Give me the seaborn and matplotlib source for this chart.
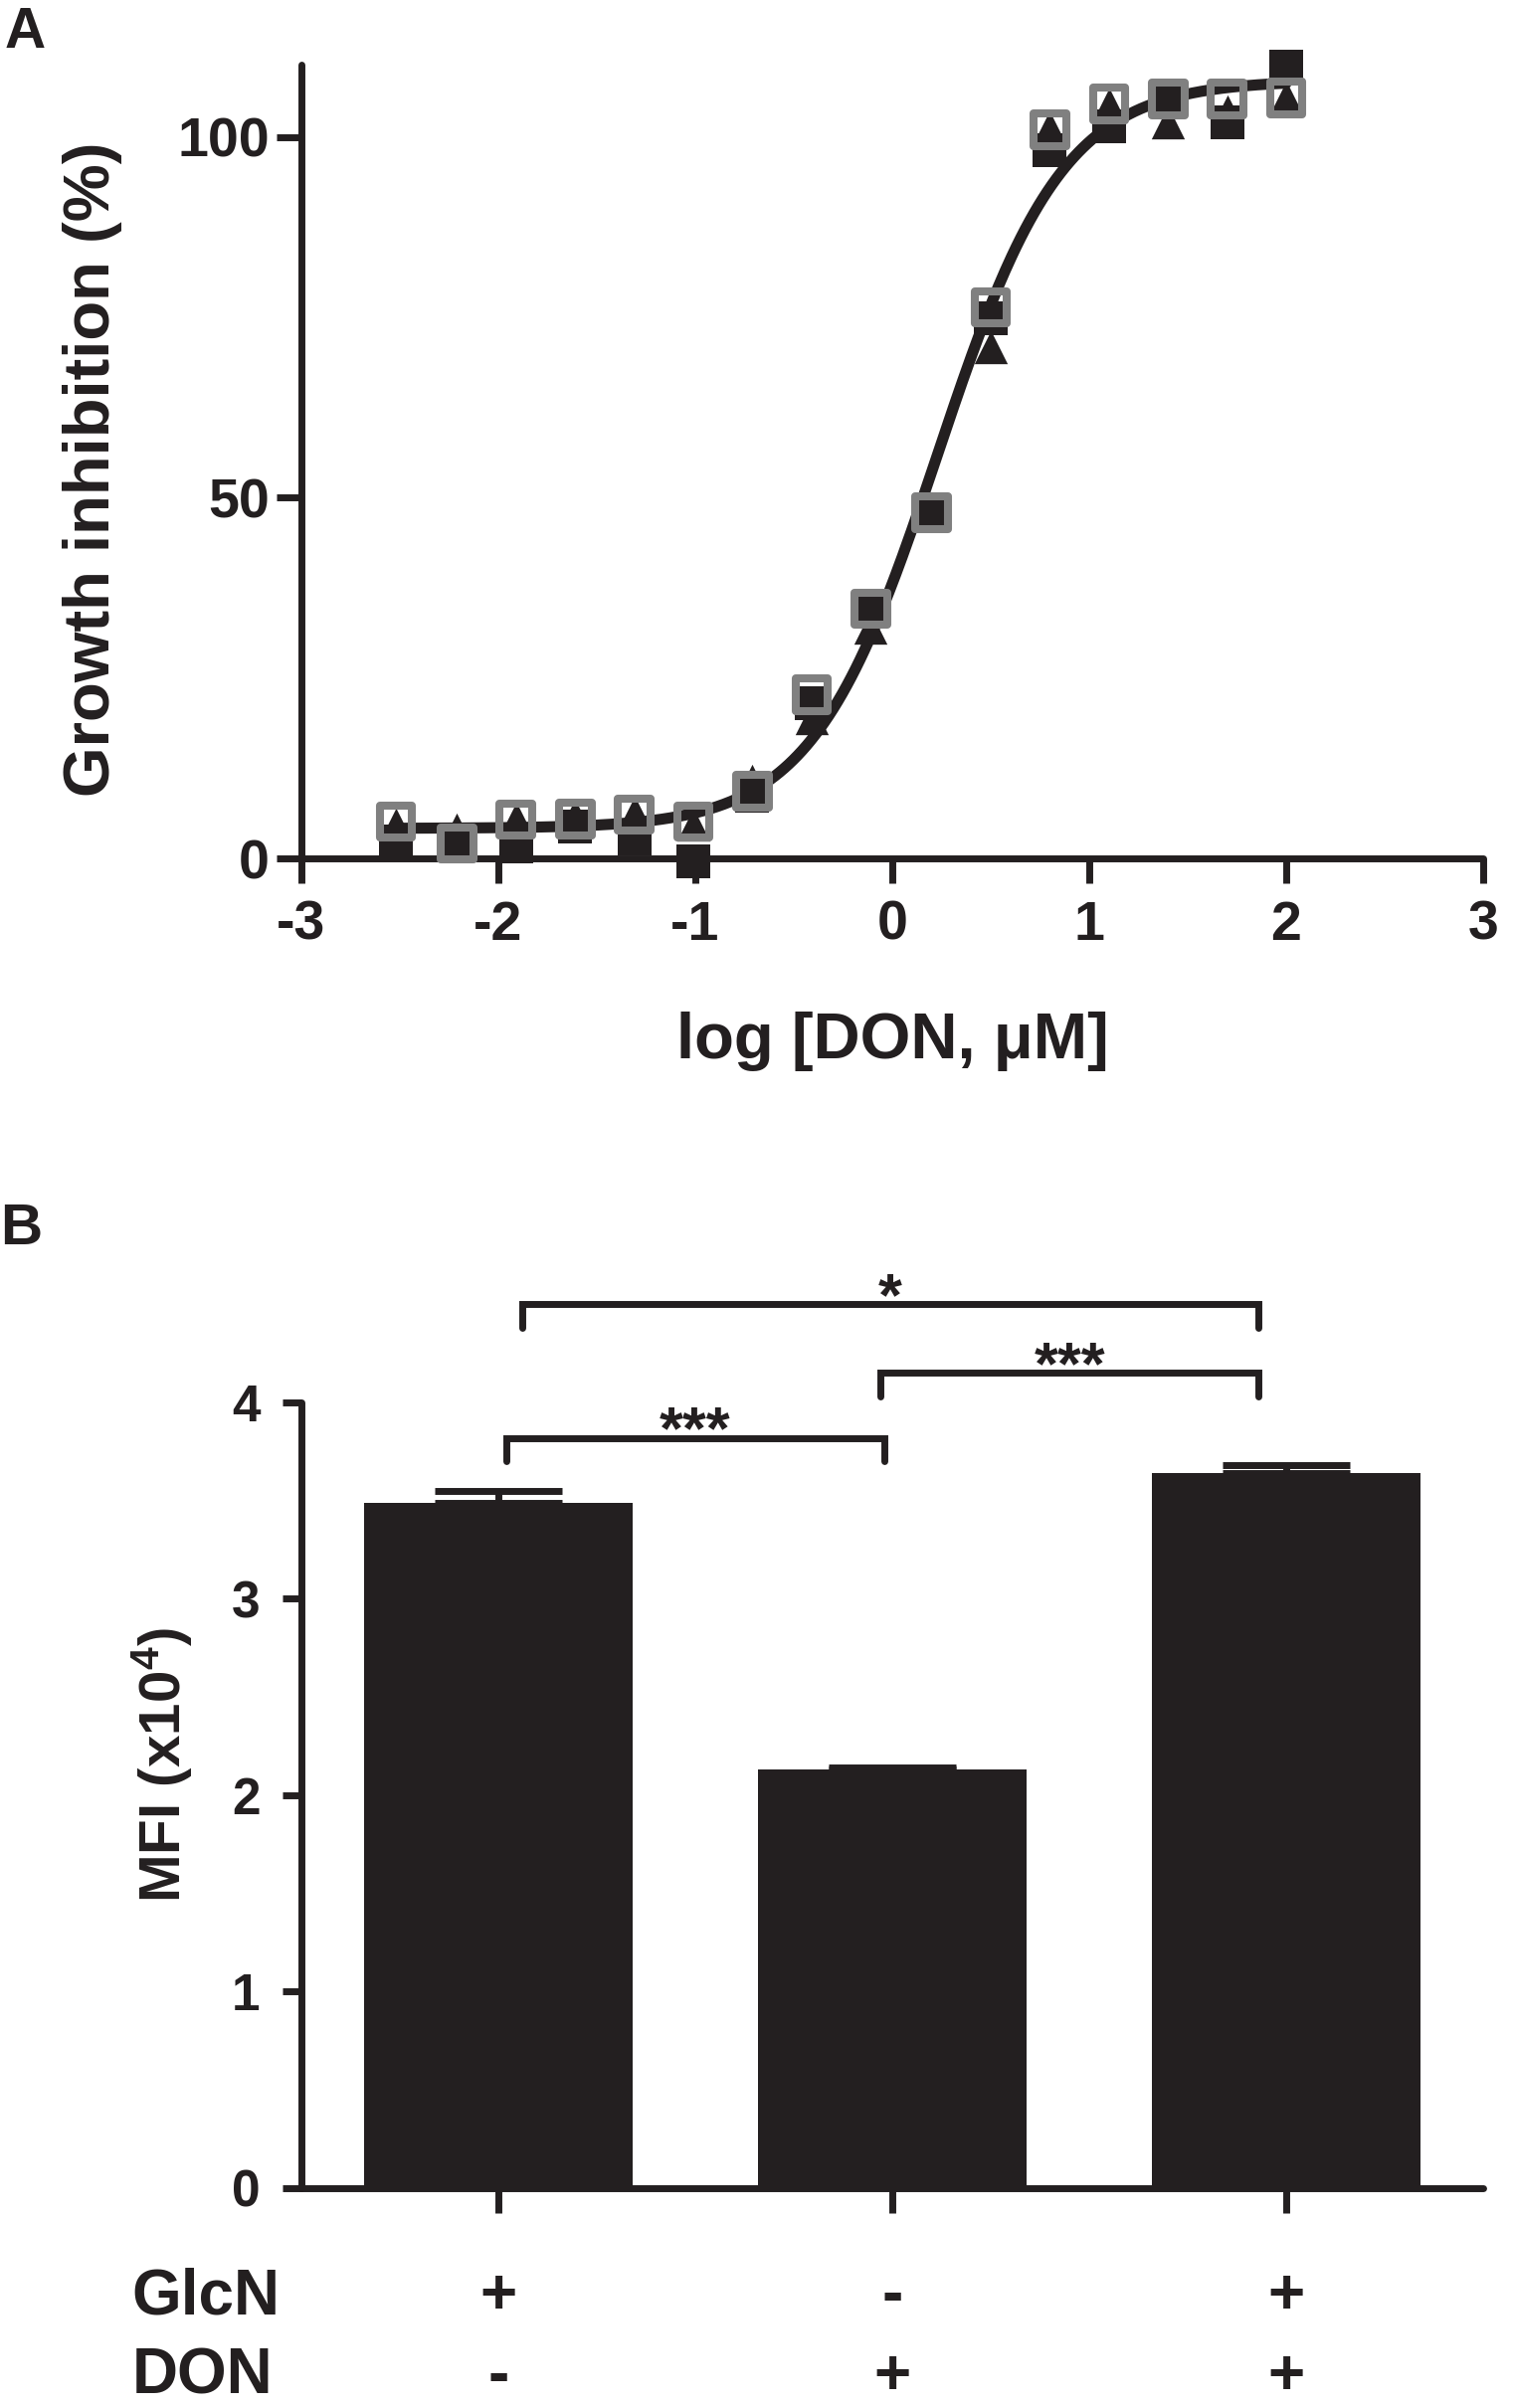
import numpy as np
import pandas as pd
import matplotlib
matplotlib.use('Agg')
import matplotlib.pyplot as plt
import seaborn as sns

# panel A: growth inhibition, three runs, 2-fold dilutions from 100 uM
log_don = [-2.52, -2.21, -1.91, -1.61, -1.31, -1.01, -0.71, -0.41,
           -0.11, 0.20, 0.50, 0.80, 1.10, 1.40, 1.70, 2.00]
inhib_run1 = [2.4, 2.1, 1.6, 4.4, 2.8, -0.4, 8.7, 21.5,
              34.6, 48.0, 74.8, 98.2, 101.5, 105.3, 102.0, 109.8]   # filled squares
inhib_run2 = [4.7, 4.0, 5.5, 5.9, 6.3, 4.7, 10.7, 19.5,
              32.0, 48.0, 70.9, 101.3, 104.5, 102.0, 103.5, 105.4]  # filled triangles
inhib_run3 = [5.1, 2.1, 5.4, 5.5, 6.1, 5.1, 9.3, 22.7,
              34.6, 47.9, 76.4, 101.0, 104.6, 105.3, 105.3, 105.4]  # open squares
xticks_a = [-3, -2, -1, 0, 1, 2, 3]
yticks_a = [0, 50, 100]

# panel B: MFI (x10^4)
conditions = ['GlcN', 'DON', 'GlcN+DON']
mfi = [3.49, 2.13, 3.64]
mfi_sem = [0.06, 0.01, 0.04]
glcn_sign = ['+', '-', '+']
don_sign = ['-', '+', '+']
comparisons = [(0, 1, '***'), (1, 2, '***'), (0, 2, '*')]
yticks_b = [0, 1, 2, 3, 4]

black = '#231f20'
gray = '#808080'

sns.set_style('ticks')
plt.rcParams['font.family'] = ['Liberation Sans', 'DejaVu Sans']
plt.rcParams['font.weight'] = 'bold'
plt.rcParams['mathtext.fontset'] = 'custom'
plt.rcParams['mathtext.rm'] = 'Liberation Sans:bold'
plt.rcParams['mathtext.bf'] = 'Liberation Sans:bold'
plt.rcParams['mathtext.default'] = 'rm'
plt.rcParams['text.color'] = black
plt.rcParams['axes.labelcolor'] = black
plt.rcParams['xtick.color'] = black
plt.rcParams['ytick.color'] = black

# 4-parameter logistic fit (grid over EC50 / slope, linear solve for bottom/top)
x_all = np.tile(log_don, 3)
y_all = np.concatenate([inhib_run1, inhib_run2, inhib_run3])
best = None
for ec in np.linspace(-0.5, 1.0, 151):
    for h in np.linspace(0.5, 3.0, 126):
        f = 1 / (1 + 10 ** ((ec - x_all) * h))
        M = np.column_stack([np.ones_like(f), f])
        coef = np.linalg.lstsq(M, y_all, rcond=None)[0]
        sse = np.sum((M @ coef - y_all) ** 2)
        if best is None or sse < best[0]:
            best = (sse, ec, h, coef)
_, ec50, hill, (bottom, span) = best
x_fit = np.linspace(min(log_don), max(log_don), 400)
y_fit = bottom + span / (1 + 10 ** ((ec50 - x_fit) * hill))

fig = plt.figure(figsize=(15.21, 24.21), dpi=100)

# ---------- panel A ----------
ax = fig.add_axes([0.1992, 0.6435, 0.7811, 0.3296])
sns.lineplot(x=x_fit, y=y_fit, color=black, lw=8, sort=False, estimator=None, ax=ax, zorder=2)
sns.scatterplot(x=log_don, y=inhib_run1, marker='s', s=24.5**2, color=black,
                edgecolor=black, linewidth=0, ax=ax, zorder=3, clip_on=False)
sns.scatterplot(x=log_don, y=inhib_run2, marker='^', s=24**2, color=black,
                edgecolor=black, linewidth=0, ax=ax, zorder=4, clip_on=False)
sns.scatterplot(x=log_don, y=inhib_run3, marker='s', s=23.5**2, facecolor='none',
                edgecolor=gray, linewidth=5.8, ax=ax, zorder=5, clip_on=False)
ax.set_xlim(-3, 3)
ax.set_ylim(0, 110)
ax.set_xticks(xticks_a)
ax.set_yticks(yticks_a)
ax.set_xticklabels([str(v) for v in xticks_a])
ax.tick_params(axis='both', width=5, length=18, labelsize=40, color=black)
ax.tick_params(axis='x', pad=12)
ax.tick_params(axis='y', pad=5)
sns.despine(ax=ax)
for side in ['left', 'bottom']:
    ax.spines[side].set_linewidth(5)
    ax.spines[side].set_color(black)
    ax.spines[side].set_capstyle('round')
ax.set_xlabel('log [DON, μM]', fontsize=47, fontweight='bold')
ax.set_ylabel('Growth inhibition (%)', fontsize=47, fontweight='bold')
ax.xaxis.set_label_coords(0.5, -0.193)
ax.yaxis.set_label_coords(-0.1515, 0.49)

# ---------- panel B ----------
axb = fig.add_axes([0.1992, 0.0913, 0.7811, 0.3263])
df_b = pd.DataFrame({'condition': conditions, 'mfi': mfi})
sns.barplot(data=df_b, x='condition', y='mfi', color=black, saturation=1,
            width=0.68, errorbar=None, linewidth=0, ax=axb)
axb.errorbar(x=np.arange(len(mfi)), y=mfi, yerr=[np.zeros(len(mfi)), mfi_sem],
             fmt='none', ecolor=black, elinewidth=5, capsize=46, capthick=5, zorder=3)
axb.set_xlim(-0.5, 2.5)
axb.set_ylim(0, 4)
axb.set_yticks(yticks_b)
axb.set_xticks(range(len(conditions)))
axb.set_xticklabels([])
axb.set_xlabel('')
axb.tick_params(axis='x', width=5, length=18, color=black)
axb.tick_params(axis='y', width=5, length=14, pad=16, labelsize=37, color=black)
sns.despine(ax=axb)
for side in ['left', 'bottom']:
    axb.spines[side].set_linewidth(5)
    axb.spines[side].set_color(black)
    axb.spines[side].set_capstyle('round')
axb.set_ylabel('MFI (x10$^4$)', fontsize=42, fontweight='bold')
axb.yaxis.set_label_coords(-0.091, 0.538)

# significance brackets
bracket_top = [3.82, 4.15, 4.50]
bracket_x = [(0.02, 0.98), (0.97, 1.93), (0.06, 1.93)]
leg = 0.12
for (i, j, label), yt, (x1, x2) in zip(comparisons, bracket_top, bracket_x):
    axb.plot([x1, x1, x2, x2], [yt - leg, yt, yt, yt - leg], color=black, lw=5,
             clip_on=False, solid_capstyle='round', solid_joinstyle='miter')
    axb.annotate(label, xy=((x1 + x2) / 2, yt), xytext=(0, -8), textcoords='offset points',
                 ha='center', va='baseline', fontsize=44, fontweight='bold',
                 annotation_clip=False)

# treatment table under the bars
trans = axb.get_xaxis_transform()
for row_label, signs, yrow in [('GlcN', glcn_sign, -0.16), ('DON', don_sign, -0.262)]:
    axb.text(-0.931, yrow, row_label, transform=trans, ha='left', va='baseline',
             fontsize=46, fontweight='bold', clip_on=False)
    for k, s in enumerate(signs):
        axb.text(k, yrow, s, transform=trans, ha='center', va='baseline',
                 fontsize=46, fontweight='bold', clip_on=False)

fig.text(5 / 1521, 1 - 48 / 2421, 'A', ha='left', va='baseline', fontsize=41, fontweight='bold')
fig.text(0 / 1521, 1 - 1251 / 2421, 'B', ha='left', va='baseline', fontsize=42, fontweight='bold')

fig.savefig('out.png', dpi=100)
